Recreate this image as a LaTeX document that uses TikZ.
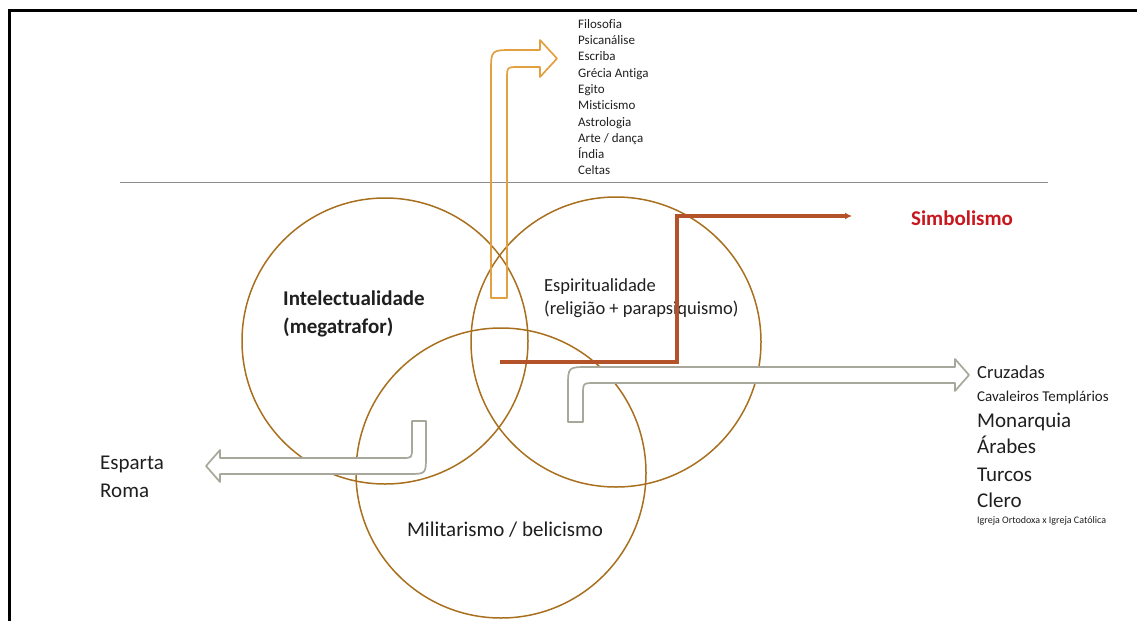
\documentclass[tikz,border=0pt]{standalone}
\usepackage{fontspec}
\setmainfont[Ligatures={NoCommon}]{Carlito}
\usepackage{xcolor}
\usepackage{tikz}
\usetikzlibrary{positioning,arrows.meta}
\definecolor{ringbrown}{HTML}{A8701E}
\definecolor{bentorange}{HTML}{E2A040}
\definecolor{bentgray}{HTML}{A7A79B}
\definecolor{simbred}{HTML}{C8161E}
\definecolor{simbline}{HTML}{B4532A}
\definecolor{rulegray}{HTML}{8C8C8C}

\begin{document}
\begin{tikzpicture}[
        x=1pt, y=-1pt,
        ring/.style={
            circle,
            draw=ringbrown,
            line width=1.5pt,
            inner sep=0pt
        },
        ringtext/.style={
            text=black!88,
            align=left,
            inner sep=0pt,
            font=\fontsize{21}{27.5}\selectfont
        },
        listtext/.style={
            text=black!88,
            anchor=base west,
            inner sep=0pt
        },
        bent/.style={
            line width=1.7pt,
            line join=round
        },
        simbarrow/.style={
            -{Latex[length=7pt,width=7pt]},
            line width=3.2pt,
            color=simbline
        }
    ]
        \useasboundingbox (0,0) rectangle (1137,621);
        \draw[line width=3.5pt] (1137,10.5) -- (9.5,10.5) -- (9.5,621);
        \draw[rulegray, line width=0.9pt] (120,182) -- (1048,182);

        % the three circles
        \node[ring, minimum size=286pt] (intel) at (385,341) {};
        \node[ring, minimum size=290pt] (espir) at (616,342) {};
        \node[ring, minimum size=290pt] (milit) at (501,473) {};

        % bent arrows
        \draw[bent, draw=bentorange] (507,298) -- (491,298) -- (491,72)
            .. controls (491,50) .. (513,50) -- (540,50) -- (540,40)
            -- (557,58.5) -- (540,77) -- (540,67) -- (519,67)
            .. controls (507,67) .. (507,79) -- cycle;
        \draw[bent, draw=bentgray, fill=white] (412,421) -- (426,421) -- (426,456)
            .. controls (426,474) .. (408,474) -- (220,474) -- (220,482)
            -- (206,466) -- (220,450) -- (220,458) -- (402,458)
            .. controls (412,458) .. (412,448) -- cycle;
        \draw[bent, draw=bentgray, fill=white] (583,422) -- (568,422) -- (568,387)
            .. controls (568,367) .. (588,367) -- (955,367) -- (955,359)
            -- (969,375) -- (955,391) -- (955,383) -- (595,383)
            .. controls (583,383) .. (583,395) -- cycle;

        \node[ringtext, anchor=west, font=\bfseries\fontsize{21}{27.5}\selectfont] (inteltxt) at (283,314) {Intelectualidade\\(megatrafor)};
        \node[ringtext, anchor=west, font=\fontsize{18.5}{23}\selectfont] (espirtxt) at (544,298.5) {Espiritualidade\\(religião + parapsiquismo)};
        \node[ringtext] (milittxt) at (505,530) {Militarismo / belicismo};
        \node[ringtext, anchor=west, font=\fontsize{21}{28}\selectfont] (esparta) at (100,477) {Esparta\\Roma};

        \node[ringtext, anchor=north west, font=\fontsize{13}{16.3}\selectfont] (topics) at (578,19) {Filosofia\\Psicanálise\\Escriba\\Grécia Antiga\\Egito\\Misticismo\\Astrologia\\Arte / dança\\Índia\\Celtas};

        \node[font=\bfseries\fontsize{21}{25}\selectfont, text=simbred, inner sep=0pt] (simb) at (962,218) {Simbolismo};

        \node[listtext, font=\fontsize{18.5}{22}\selectfont] (cruz) at (977,378) {Cruzadas};
        \node[listtext, font=\fontsize{15}{18}\selectfont] (cav) at (977,401) {Cavaleiros Templários};
        \node[listtext, font=\fontsize{21}{25}\selectfont] (monarq) at (977,427) {Monarquia};
        \node[listtext, font=\fontsize{21}{25}\selectfont] (arab) at (977,453) {Árabes};
        \node[listtext, font=\fontsize{21}{25}\selectfont] (turc) at (977,481) {Turcos};
        \node[listtext, font=\fontsize{21}{25}\selectfont] (clero) at (977,507) {Clero};
        \node[listtext, font=\fontsize{10}{12}\selectfont] (igreja) at (977,523) {Igreja Ortodoxa x Igreja Católica};

        % connector towards Simbolismo
        \coordinate (simbstart) at (500,362);
        \coordinate (simbbend) at (677,216);
        \coordinate (simbend) at (852,216);
        \draw[simbarrow] (simbstart) -| (simbbend) -- (simbend);
    \end{tikzpicture}
\end{document}
